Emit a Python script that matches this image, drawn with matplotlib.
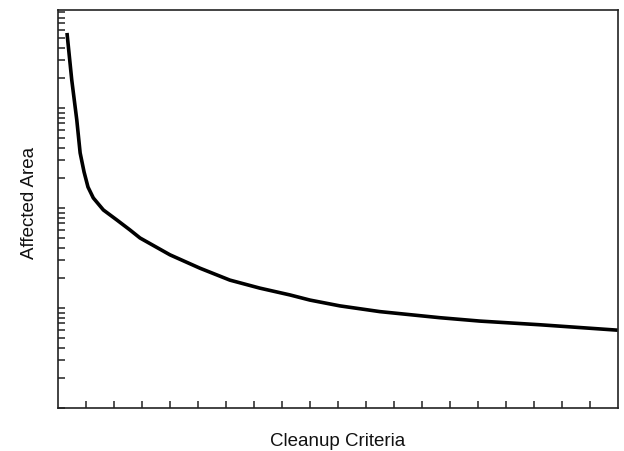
import matplotlib
matplotlib.use("Agg")
import matplotlib.pyplot as plt
from matplotlib.ticker import LogLocator, NullFormatter, FixedLocator

# values (x in tick units, y on log scale)
criteria = [0.32, 0.49, 0.67, 0.79, 0.93, 1.07, 1.26, 1.62, 2.10, 2.57, 2.93,
            4.0, 5.07, 6.14, 7.21, 8.29, 9.0, 10.07, 11.5, 13.64, 15.07,
            17.21, 20.0]
area = [5620, 1905, 759, 355, 229, 162, 126, 95.5, 75.9, 60.3, 50.1,
        34, 25, 19, 15.8, 13.5, 12.0, 10.5, 9.2, 8.0, 7.4,
        6.8, 6.0]
x_ticks = list(range(1, 20))

plt.rcParams['font.family'] = ['Liberation Sans', 'DejaVu Sans']

fig = plt.figure(figsize=(6.24, 4.51), dpi=100)
ax = fig.add_axes([0.093, 0.0953, 0.897, 0.8827])

ax.plot(criteria, area, color='black', linewidth=2.6,
        solid_capstyle='butt', solid_joinstyle='round')

ax.set_yscale('log')
ax.set_xlim(0, 20)
ax.set_ylim(1, 10 ** 3.98)

ax.xaxis.set_major_locator(FixedLocator(x_ticks))
ax.xaxis.set_major_formatter(NullFormatter())
ax.yaxis.set_major_locator(LogLocator(base=10, numticks=10))
ax.yaxis.set_minor_locator(LogLocator(base=10, subs=range(2, 10), numticks=20))
ax.yaxis.set_major_formatter(NullFormatter())
ax.yaxis.set_minor_formatter(NullFormatter())

ax.tick_params(axis='both', which='both', direction='in', length=5, width=1.1,
               color='#222222')
for s in ax.spines.values():
    s.set_linewidth(1.2)
    s.set_color('#222222')

fig.text(338 / 624, 1 - 442 / 451, "Cleanup Criteria", fontsize=13.5,
         ha='center', va='center', color='#111111')
fig.text(30 / 624, 1 - 203 / 451, "Affected Area", fontsize=13.5,
         rotation=90, ha='center', va='center', color='#111111')

fig.savefig("out.png", dpi=100)
